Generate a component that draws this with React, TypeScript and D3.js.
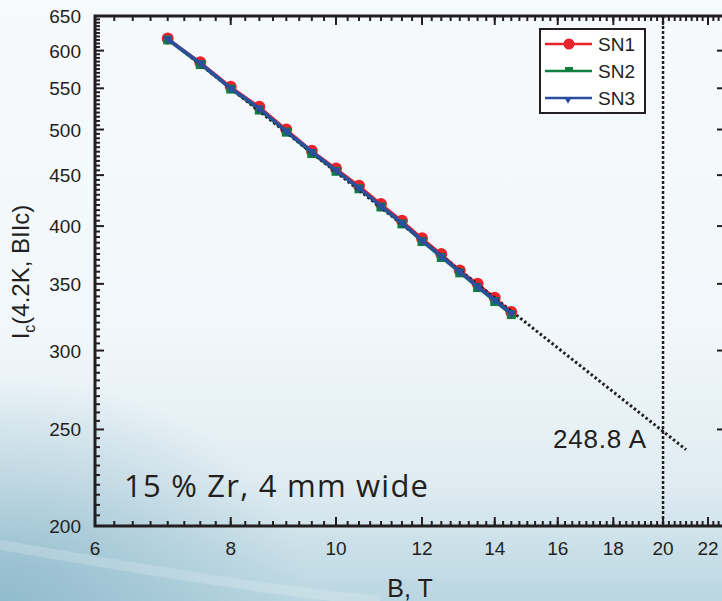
import React from "react";
import * as d3 from "d3";

const FIELD_T = [7, 7.5, 8, 8.5, 9, 9.5, 10, 10.5, 11, 11.5, 12, 12.5, 13, 13.5, 14, 14.5];
const SN1 = [617, 584, 552, 527, 500, 476, 457, 439, 421, 405, 389, 375, 361, 350, 339, 328];
const SN2 = [615, 581, 549, 523, 497, 473, 454, 436, 418, 402, 386, 372, 359, 347, 336, 326];
const SN3 = [616, 583, 550, 525, 498, 475, 455, 437, 419, 403, 387, 373, 360, 348, 337, 327];
const FIT_B = [7, 21];
const FIT_I = [617, 238.6];
const TARGET_B = 20;
const TARGET_I = 248.8;
const X_TICKS = [6, 8, 10, 12, 14, 16, 18, 20, 22];
const Y_TICKS = [200, 250, 300, 350, 400, 450, 500, 550, 600, 650];
const SERIES_NAMES = ["SN1", "SN2", "SN3"];

const W = 722;
const H = 601;
const L = 95;
const R = 726;
const T = 16;
const Bm = 526;

export default function App() {
  const x = d3.scaleLog().domain([6, 6 * Math.exp((R - L) / 471.8)]).range([L, R]);
  const y = d3.scaleLog().domain([200, 650]).range([Bm, T]);
  const line = d3
    .line<[number, number]>()
    .x((d) => x(d[0]))
    .y((d) => y(d[1]));

  const xMinor: number[] = [];
  for (let v = 6.25; v < x.domain()[1]; v += 0.25) xMinor.push(v);
  const yMinor: number[] = [];
  for (let v = 205; v < 650; v += 5) if (v % 50 !== 0) yMinor.push(v);

  const s1 = FIELD_T.map((b, i) => [b, SN1[i]] as [number, number]);
  const s2 = FIELD_T.map((b, i) => [b, SN2[i]] as [number, number]);
  const s3 = FIELD_T.map((b, i) => [b, SN3[i]] as [number, number]);
  const fit = FIT_B.map((b, i) => [b, FIT_I[i]] as [number, number]);

  const red = "#e8232b";
  const green = "#0f7e3f";
  const blue = "#2b4f9f";
  const ink = "#231f20";
  const tri = d3.symbol().type(d3.symbolTriangle).size(36)();

  return (
    <svg width={W} height={H} style={{ position: "absolute", left: 0, top: 0, display: "block" }}>
      <defs>
        <linearGradient id="bg" x1="0" y1="0" x2="0" y2="1">
          <stop offset="0" stopColor="#f7fafd" />
          <stop offset="0.55" stopColor="#f1f7fa" />
          <stop offset="0.8" stopColor="#e0ecf2" />
          <stop offset="1" stopColor="#bad6e1" />
        </linearGradient>
        <radialGradient id="corner" cx="0" cy="1" r="0.7">
          <stop offset="0" stopColor="#86b4c7" stopOpacity="0.8" />
          <stop offset="1" stopColor="#86b4c7" stopOpacity="0" />
        </radialGradient>
      </defs>
      <rect x={0} y={0} width={W} height={H} fill="url(#bg)" />
      <rect x={0} y={280} width={440} height={321} fill="url(#corner)" />
      <path d="M0,545 C120,565 260,590 380,601" fill="none" stroke="#ffffff" strokeOpacity={0.18} strokeWidth={10} />

      {/* vertical dotted line at 20 T */}
      <line x1={x(TARGET_B)} x2={x(TARGET_B)} y1={T} y2={Bm} stroke={ink} strokeWidth={2.5} strokeDasharray="3 2" />

      {/* series */}
      <path d={line(s1) || ""} fill="none" stroke={red} strokeWidth={2.5} />
      {s1.map((d, i) => (
        <circle key={"a" + i} cx={x(d[0])} cy={y(d[1])} r={6} fill={red} />
      ))}
      <path d={line(s2) || ""} fill="none" stroke={green} strokeWidth={2.5} />
      {s2.map((d, i) => (
        <rect key={"b" + i} x={x(d[0]) - 4.5} y={y(d[1]) - 4.5} width={9} height={9} fill={green} />
      ))}
      <path d={line(fit) || ""} fill="none" stroke={ink} strokeWidth={3} strokeDasharray="2.5 2.5" />
      <path d={line(s3) || ""} fill="none" stroke={blue} strokeWidth={3.5} />
      {s3.map((d, i) => (
        <path key={"c" + i} d={tri || ""} transform={`translate(${x(d[0])},${y(d[1])}) rotate(180)`} fill={blue} />
      ))}

      {/* axes frame */}
      <g stroke={ink} strokeWidth={2}>
        {xMinor.map((v) => (
          <g key={"xm" + v}>
            <line x1={x(v)} x2={x(v)} y1={Bm} y2={Bm - 5} />
            <line x1={x(v)} x2={x(v)} y1={T} y2={T + 5} />
          </g>
        ))}
        {X_TICKS.map((v) => (
          <g key={"xM" + v}>
            <line x1={x(v)} x2={x(v)} y1={Bm} y2={Bm - 9} />
            <line x1={x(v)} x2={x(v)} y1={T} y2={T + 9} />
          </g>
        ))}
        {yMinor.map((v) => (
          <g key={"ym" + v}>
            <line x1={L} x2={L + 5} y1={y(v)} y2={y(v)} />
            <line x1={R} x2={R - 4} y1={y(v)} y2={y(v)} />
          </g>
        ))}
        {Y_TICKS.map((v) => (
          <g key={"yM" + v}>
            <line x1={L} x2={L + 9} y1={y(v)} y2={y(v)} />
            <line x1={R} x2={R - 9} y1={y(v)} y2={y(v)} />
          </g>
        ))}
      </g>
      <rect x={L} y={T} width={R - L} height={Bm - T} fill="none" stroke={ink} strokeWidth={3} />

      {/* tick labels */}
      <g fontFamily="Liberation Sans, Arial, sans-serif" fontSize={19} fill={ink}>
        {X_TICKS.map((v) => (
          <text key={"xl" + v} x={x(v)} y={555} textAnchor="middle">
            {v}
          </text>
        ))}
        {Y_TICKS.map((v) => (
          <text key={"yl" + v} x={81} y={y(v) + 7} textAnchor="end">
            {v}
          </text>
        ))}
      </g>

      {/* axis titles */}
      <text x={410} y={597} textAnchor="middle" fontFamily="Liberation Sans, Arial, sans-serif" fontSize={25} fill={ink}>
        B, T
      </text>
      <text
        transform="translate(29,272) rotate(-90)"
        textAnchor="middle"
        fontFamily="Liberation Sans, Arial, sans-serif"
        fontSize={24}
        fill={ink}
      >
        I<tspan fontSize={16} dy={6}>c</tspan>
        <tspan dy={-6}>(4.2K, BIIc)</tspan>
      </text>

      {/* annotations */}
      <text x={553} y={448} fontFamily="Liberation Sans, Arial, sans-serif" fontSize={26} fill={ink} textLength={93} lengthAdjust="spacing">
        {TARGET_I.toFixed(1)} A
      </text>
      <text x={124} y={497} fontFamily="Open Sans, Lato, sans-serif" fontSize={31} fill={ink} textLength={304} lengthAdjust="spacing">
        15 % Zr, 4 mm wide
      </text>

      {/* legend */}
      <rect x={540} y={29} width={105} height={84} fill="#ffffff" stroke={ink} strokeWidth={2} />
      {SERIES_NAMES.map((name, i) => {
        const cy = 44 + i * 27;
        const col = [red, green, blue][i];
        return (
          <g key={name}>
            <line x1={545} x2={592} y1={cy} y2={cy} stroke={col} strokeWidth={2.5} />
            {i === 0 && <circle cx={569} cy={cy} r={5.5} fill={col} />}
            {i === 1 && <rect x={565} y={cy - 4} width={8} height={5} fill={col} />}
            {i === 2 && <path d={tri || ""} transform={`translate(568,${cy + 2}) rotate(180) scale(0.7)`} fill={col} />}
            <text x={598} y={cy + 7} fontFamily="Liberation Sans, Arial, sans-serif" fontSize={19} fill={ink}>
              {name}
            </text>
          </g>
        );
      })}
    </svg>
  );
}
